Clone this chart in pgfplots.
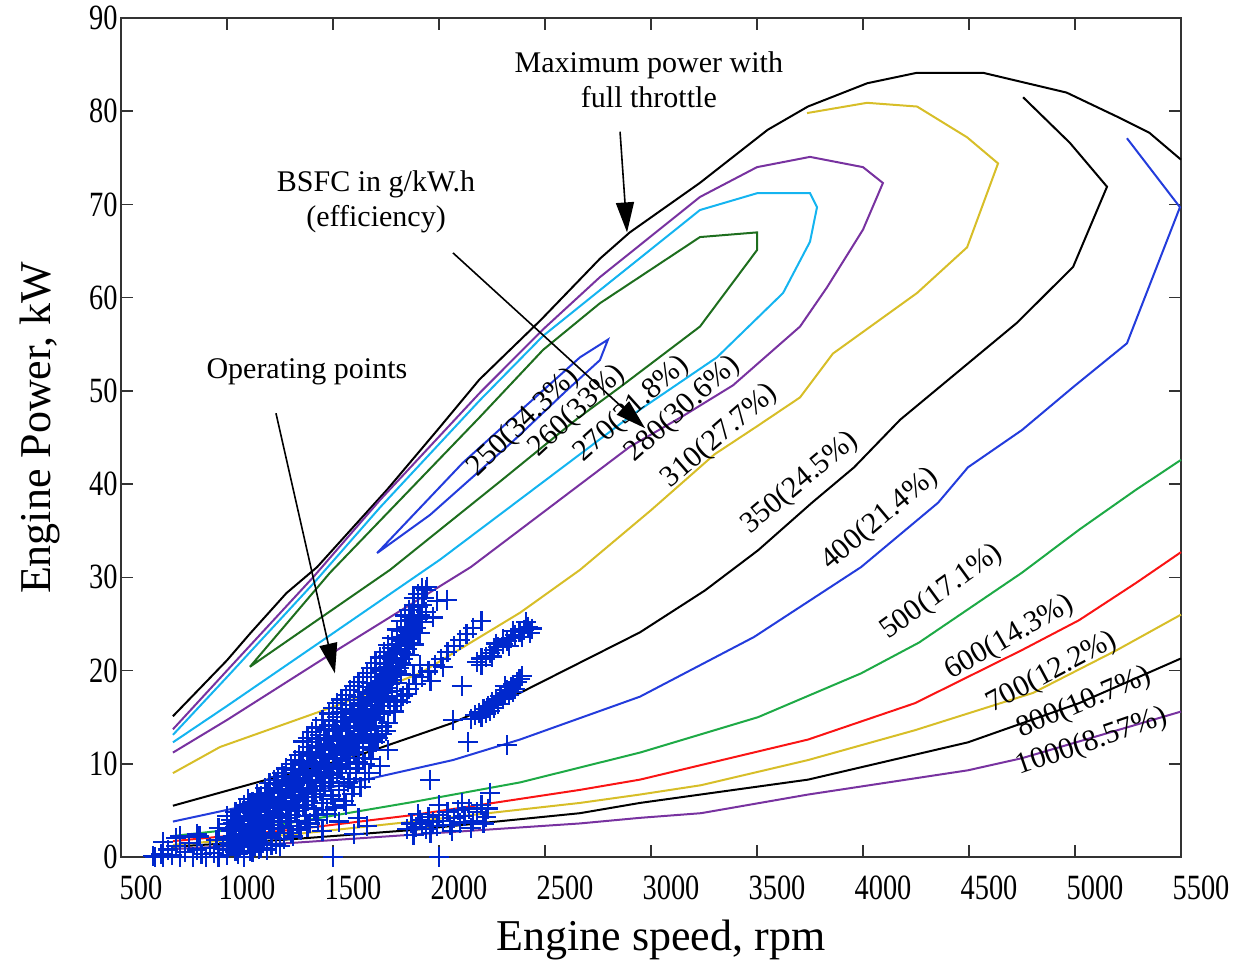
\documentclass[border=0pt]{standalone}
\usepackage{fontspec}
\setmainfont{Liberation Serif}
\newfontfamily\tickfont[FakeStretch=0.8]{Liberation Serif}
\usepackage{pgfplots}
\pgfplotsset{compat=1.18}
\usetikzlibrary{arrows.meta}
\definecolor{cPurple}{RGB}{120,50,160}
\definecolor{cCyan}{RGB}{20,180,240}
\definecolor{cDGreen}{RGB}{30,110,30}
\definecolor{cBlue}{RGB}{35,60,220}
\definecolor{cYellow}{RGB}{215,190,40}
\definecolor{cGreen}{RGB}{30,170,70}
\definecolor{cRed}{RGB}{250,20,20}
\definecolor{cOp}{RGB}{0,40,205}
\begin{document}
\begin{tikzpicture}
\begin{axis}[
  name=ax, scale only axis, width=530pt, height=419.5pt,
  xmin=500, xmax=5500, ymin=0, ymax=90,
  xtick={500,1000,...,5500}, ytick={0,10,...,90},
  xtick pos=both, ytick pos=both, xticklabel pos=lower, yticklabel pos=left,
  tick align=inside, major tick length=6pt,
  axis line style={black!80, line width=1pt},
  tick style={black!80, line width=0.8pt},
  clip=false,
  /pgf/number format/assume math mode=true,
  /pgf/number format/1000 sep={},
  ticklabel style={font=\tickfont\fontsize{17.75}{20}\selectfont},
  xticklabel style={inner sep=2pt, yshift=-7pt, xshift=10pt},
  yticklabel style={inner sep=1.5pt},
  xlabel={Engine speed, rpm}, ylabel={Engine Power, kW},
  label style={font=\fontsize{22}{26}\selectfont},
  xlabel style={at={(axis description cs:0.5094,-0.0989)}, anchor=center},
  ylabel style={at={(axis description cs:-0.0764,0.5113)}, anchor=center},
]
% operating points
\addplot[only marks, mark=+, mark size=5pt, color=cOp, line width=1.1pt] coordinates {
(650,0.1)(660,0)(690,0.3)(700,0)(720,0.8)(740,0.2)(760,1.2)(780,0)(800,0.5)(820,1.5)(840,0)(860,0.8)(880,0.3)(900,0)(920,1.0)(940,0.4)(960,0)(980,1.2)(1000,0.2)(700,1.6)(760,2.0)(870,2.2)(950,1.8)(1040,0.9)(1080,0.0)(1100,1.4)(1120,0.5)(1160,1.0)(1180,2.4)(1210,1.3)(780,2.2)(860,2.5)(960,3.1)(1050,0.3)(1150,0.9)(1250,1.2)
(1000,0.8)(1000,2.1)(1000,3.5)(1000,4.4)
(1020,1.3)(1020,2.8)(1020,4.0)
(1040,0.6)(1040,1.9)(1040,3.2)(1040,4.8)
(1060,1.1)(1060,2.5)(1060,3.9)(1060,5.0)
(1080,1.6)(1080,3.0)(1080,4.3)(1080,5.6)
(1100,1.4)(1100,2.7)(1100,4.1)(1100,5.3)(1100,6.2)
(1120,2.0)(1120,3.4)(1120,4.7)(1120,5.9)
(1140,1.8)(1140,3.1)(1140,4.5)(1140,6.0)(1140,6.8)
(1160,2.6)(1160,3.8)(1160,5.2)(1160,6.5)
(1180,2.3)(1180,3.6)(1180,4.9)(1180,6.2)(1180,7.4)
(1200,3.0)(1200,4.3)(1200,5.6)(1200,6.9)(1200,7.9)
(1220,3.4)(1220,4.7)(1220,6.1)(1220,7.3)(1220,8.3)
(1240,3.1)(1240,4.4)(1240,5.8)(1240,7.0)(1240,8.6)
(1260,3.8)(1260,5.1)(1260,6.4)(1260,7.7)(1260,9.0)
(1280,4.2)(1280,5.5)(1280,6.9)(1280,8.2)(1280,9.5)
(1300,4.5)(1300,5.9)(1300,7.2)(1300,8.6)(1300,10.0)
(1320,4.9)(1320,6.3)(1320,7.7)(1320,9.0)(1320,10.4)
(1340,5.3)(1340,6.6)(1340,8.0)(1340,9.4)(1340,10.9)
(1360,5.6)(1360,7.0)(1360,8.5)(1360,9.9)(1360,11.3)
(1380,6.0)(1380,7.4)(1380,8.8)(1380,10.3)(1380,11.8)
(1400,6.4)(1400,7.9)(1400,9.3)(1400,10.8)(1400,12.3)
(1420,6.8)(1420,8.2)(1420,9.7)(1420,11.2)(1420,12.7)
(1440,7.1)(1440,8.7)(1440,10.2)(1440,11.7)(1440,13.1)
(1460,7.6)(1460,9.1)(1460,10.6)(1460,12.1)(1460,13.6)
(1480,8.0)(1480,9.5)(1480,11.0)(1480,12.6)(1480,14.1)
(1500,8.5)(1500,10.0)(1500,11.5)(1500,13.0)(1500,14.6)
(1520,9.0)(1520,10.5)(1520,12.0)(1520,13.5)(1520,15.0)
(1540,9.5)(1540,11.0)(1540,12.5)(1540,14.0)(1540,15.5)
(1560,10.0)(1560,11.6)(1560,13.0)(1560,14.5)(1560,15.9)
(1580,10.6)(1580,12.1)(1580,13.5)(1580,15.0)(1580,16.3)
(1600,11.2)(1600,12.6)(1600,14.0)(1600,15.4)(1600,16.8)
(1620,11.8)(1620,13.2)(1620,14.6)(1620,15.9)(1620,17.2)
(1640,12.5)(1640,13.8)(1640,15.1)(1640,16.4)(1640,17.7)
(1660,13.2)(1660,14.4)(1660,15.7)(1660,16.9)(1660,18.2)
(1680,13.9)(1680,15.1)(1680,16.3)(1680,17.5)(1680,18.7)
(1700,14.7)(1700,15.8)(1700,17.0)(1700,18.1)(1700,19.3)
(1720,15.4)(1720,16.6)(1720,17.7)(1720,18.8)(1720,20.0)
(1740,16.2)(1740,17.3)(1740,18.5)(1740,19.6)(1740,20.7)
(1760,17.0)(1760,18.1)(1760,19.3)(1760,20.4)(1760,21.5)
(1780,17.8)(1780,19.0)(1780,20.1)(1780,21.3)(1780,22.4)
(1800,18.7)(1800,19.9)(1800,21.0)(1800,22.2)(1800,23.4)
(1820,19.6)(1820,20.8)(1820,22.0)(1820,23.2)(1820,24.3)
(1840,20.6)(1840,21.8)(1840,23.0)(1840,24.2)
(1860,21.7)(1860,22.9)(1860,24.1)(1860,25.3)
(1880,22.8)(1880,24.0)(1880,25.2)
(1900,24.0)(1900,25.5)(1900,26.8)
(1920,25.2)(1920,27.0)(1940,28.6)(1940,26.3)
(1010,1.5)(1010,3.0)(1030,2.2)(1030,3.6)(1050,1.4)(1050,4.4)(1070,2.0)(1070,3.4)(1090,2.3)(1090,4.9)(1110,3.5)(1110,5.7)(1130,2.8)(1130,5.2)(1150,4.0)(1150,6.3)(1170,3.2)(1170,5.8)(1190,4.2)(1190,6.9)(1210,3.8)(1210,6.4)(1230,5.3)(1230,7.8)(1250,4.6)(1250,7.3)(1270,6.0)(1270,8.7)(1290,5.0)(1290,7.6)(1310,6.6)(1310,9.3)(1330,5.6)(1330,8.4)(1350,7.2)(1350,10.2)(1370,6.4)(1370,9.1)(1390,8.1)(1390,11.0)(1410,7.2)(1410,10.0)(1430,8.9)(1430,11.9)(1450,8.0)(1450,10.9)(1470,9.8)(1470,12.8)(1490,8.8)(1490,11.8)(1510,10.6)(1510,13.7)(1530,9.7)(1530,12.8)(1550,11.3)(1550,14.6)(1570,10.9)(1570,13.8)(1590,12.4)(1590,15.6)(1610,12.2)(1610,14.8)(1630,13.5)(1630,16.5)(1650,13.6)(1650,16.2)(1670,14.9)(1670,17.6)(1690,15.0)(1690,17.9)(1710,16.2)(1710,18.7)(1730,16.8)(1730,19.3)(1750,17.7)(1750,20.1)(1770,18.6)(1770,20.8)(1790,19.5)(1790,21.8)(1810,20.3)(1810,22.8)(1830,21.2)(1830,23.6)(1850,22.3)(1850,24.7)(1870,23.4)(1870,25.8)(1890,24.6)(1910,25.9)(1930,27.8)
(1110,0.6)(1130,1.2)(1150,2.2)(1170,1.5)(1190,0.8)(1210,2.0)(1230,1.4)(1250,2.6)(1270,1.9)(1290,3.3)(1310,2.2)(1330,3.8)(1350,2.9)(1370,4.4)(1390,3.6)(1410,5.2)(1430,4.0)(1450,5.8)(1470,4.6)(1490,6.6)(1510,5.3)(1530,7.2)(1550,6.0)(1570,8.0)(1590,6.8)(1610,9.0)(1630,7.5)(1650,10.0)(1670,9.0)(1690,11.5)(1710,12.8)(1730,14.0)
(1360,12.4)(1380,12.8)(1400,13.4)(1420,13.9)(1450,14.7)(1480,15.4)(1500,16.0)(1520,16.5)(1540,16.9)(1560,17.4)(1580,17.9)(1600,18.3)(1620,18.8)(1640,19.3)(1660,19.7)(1680,20.3)(1700,20.8)(1720,21.4)(1740,22.0)(1760,22.7)(1780,23.5)(1800,24.4)(1820,25.3)(1840,25.9)(1860,26.5)(1880,27.8)(1900,28.2)(1920,28.9)
(1550,7.6)(1580,8.4)(1610,9.5)(1640,10.6)(1670,11.7)(1700,13.0)(1730,13.2)(1760,14.4)(1790,15.6)(1820,16.6)(1850,17.5)(1880,19.5)(1910,20.6)(1620,10.2)(1680,12.5)
(1300,2.6)(1340,3.0)(1380,3.2)(1420,4.5)(1450,2.8)(1470,5.0)(1500,6.2)(1530,3.8)(1560,5.6)(1580,9.0)(1600,7.5)(1600,2.5)(1620,4.2)(1650,8.4)(1660,3.3)(1680,10.5)(1700,12.3)(1720,9.8)(1750,13.5)(1760,11.5)
(1943,29.0)(2038,27.6)(1972,25.7)(1863,25.4)(1910,24.0)(1990,27.5)(1880,27.0)
(1740,15.5)(1770,16.2)(1800,16.8)(1830,17.3)(1860,18.0)(1890,18.6)(1920,19.3)(1950,19.9)(1980,20.6)(2010,21.2)(2040,22.0)(2070,22.6)(2100,23.3)(2130,23.9)(2160,24.6)(2200,25.3)(1960,18.9)(2020,20.4)
(2180,20.9)(2200,21.3)(2220,21.5)(2240,21.9)(2260,22.2)(2280,22.5)(2300,22.8)(2320,23.2)(2340,23.5)(2360,23.8)(2380,24.1)(2400,24.4)(2420,24.7)(2440,24.5)(2250,21.5)(2300,23.4)(2350,24.2)(2390,23.6)(2410,25.2)(2200,20.6)(2270,22.9)(2330,22.6)(2430,24.0)
(2150,14.8)(2170,15.2)(2190,15.5)(2200,15.0)(2210,15.9)(2230,16.2)(2240,15.7)(2250,16.6)(2270,16.9)(2280,16.4)(2290,17.3)(2300,17.0)(2310,17.6)(2320,17.9)(2330,17.4)(2340,18.2)(2350,18.5)(2360,18.0)(2370,18.8)(2380,19.1)(2220,15.4)(2260,16.0)(2310,18.3)(2350,17.7)(2390,19.4)
(2108,18.3)(2137,12.3)(2321,12.0)(1958,8.3)(2066,14.7)
(1850,3.0)(1870,3.6)(1890,3.2)(1910,4.0)(1920,3.5)(1940,3.0)(1950,4.3)(1970,3.8)(1990,3.3)(2000,4.5)(2020,3.9)(2040,4.8)(2050,3.4)(2070,4.2)(2090,5.0)(2100,3.7)(2120,4.4)(2140,5.2)(2160,3.9)(2180,4.8)(2200,5.6)(2220,4.3)(2240,6.9)(2230,5.2)(1880,2.4)(1960,2.6)(2060,2.8)(2150,3.1)(2210,3.6)(1900,4.6)(2000,5.6)(2110,5.8)
(1500,0)(2000,0)
};
% contour lines
\addplot[black, line width=1pt] coordinates {(745,15.1)(1000,21.1)(1110,24.0)(1280,28.3)(1425,31.1)(1755,39.4)(2000,46.0)(2190,51.2)(2480,57.6)(2760,64.2)(2900,67.0)(3230,72.3)(3550,78.0)(3740,80.5)(4020,83.0)(4250,84.1)(4570,84.1)(4960,82.0)(5200,79.4)(5350,77.7)(5500,74.8)};
\addplot[cPurple, line width=1pt] coordinates {(745,13.7)(1000,20.0)(1406,30.0)(1722,38.3)(2193,49.8)(2491,56.6)(2759,62.2)(3231,70.8)(3500,74.0)(3750,75.1)(4000,74.0)(4094,72.3)(4000,67.3)(3830,61.1)(3703,56.9)(3387,50.6)(3151,47.3)(2900,44.0)(2150,31.1)(1519,22.2)(1000,14.7)(745,11.2)};
\addplot[cCyan, line width=1pt] coordinates {(745,13.1)(1000,19.3)(1406,29.3)(1722,37.5)(2193,49.0)(2491,55.9)(2759,60.8)(3231,69.4)(3500,71.2)(3750,71.2)(3783,69.7)(3750,66.0)(3623,60.5)(3311,53.6)(2910,47.4)(2005,31.9)(1500,24.0)(1000,16.2)(745,12.3)};
\addplot[cDGreen, line width=1pt] coordinates {(1108,20.4)(1486,30.5)(2193,47.2)(2491,54.4)(2759,59.4)(3231,66.5)(3500,67.0)(3500,65.1)(3231,56.9)(2854,50.4)(2651,47.0)(2300,40.5)(1769,30.8)(1400,25.0)(1108,20.4)};
\addplot[cBlue, line width=1pt] coordinates {(1708,32.6)(2113,42.3)(2400,48.2)(2665,53.6)(2797,55.5)(2759,53.3)(2600,50.0)(2349,44.6)(1958,36.7)(1708,32.6)};
\addplot[cYellow, line width=1pt] coordinates {(745,9.0)(967,11.8)(1500,16.1)(1910,19.7)(2382,26.2)(2665,30.8)(3000,37.2)(3300,43.2)(3500,46.2)(3703,49.3)(3858,54.0)(4255,60.5)(4491,65.4)(4637,74.4)(4491,77.2)(4255,80.5)(4019,80.9)(3736,79.8)};
\addplot[black, line width=1pt] coordinates {(745,5.5)(1236,8.6)(1594,10.7)(2066,14.4)(2382,17.6)(2948,24.1)(3255,28.6)(3505,32.9)(3759,38.0)(3958,41.8)(4175,46.9)(4726,57.3)(4991,63.3)(5151,71.9)(4976,76.6)(4755,81.5)};
\addplot[cBlue, line width=1pt] coordinates {(745,3.8)(1439,7.2)(2066,10.4)(2382,12.6)(2948,17.2)(3486,23.6)(3991,31.1)(4354,38.0)(4495,41.8)(4750,45.8)(4991,50.4)(5245,55.1)(5495,69.7)(5245,77.1)};
\addplot[cGreen, line width=1pt] coordinates {(745,2.25)(1283,3.6)(1877,5.9)(2382,8.0)(2948,11.2)(3505,15.0)(3991,19.7)(4264,23.0)(4750,30.5)(5019,35.1)(5288,39.4)(5500,42.6)};
\addplot[cRed, line width=1pt] coordinates {(745,1.7)(1300,2.9)(1877,4.5)(2665,7.2)(2948,8.3)(3741,12.6)(4245,16.5)(4750,22.2)(5019,25.4)(5288,29.4)(5500,32.7)};
\addplot[cYellow, line width=1pt] coordinates {(745,1.3)(1300,2.4)(1877,3.8)(2665,5.8)(2948,6.7)(3236,7.7)(3741,10.4)(4245,13.6)(4802,17.6)(5198,22.2)(5500,26.0)};
\addplot[black, line width=1pt] coordinates {(745,1.1)(1300,1.9)(1877,2.9)(2665,4.7)(2948,5.8)(3741,8.3)(4495,12.3)(5019,16.5)(5500,21.3)};
\addplot[cPurple, line width=1pt] coordinates {(745,0.85)(1300,1.5)(1877,2.4)(2665,3.6)(2948,4.2)(3236,4.7)(3741,6.7)(4495,9.3)(4750,10.6)(5500,15.6)};
% contour labels
\begin{scope}[every node/.style={font=\fontsize{15}{17}\selectfont, inner sep=0.5pt}]
\node[rotate=44] at (axis cs:2400,46.6) {250(34.3\%)};
\node[rotate=43] at (axis cs:2651,47.8) {260(33\%)};
\node[rotate=42] at (axis cs:2910,48.0) {270(31.8\%)};
\node[rotate=42] at (axis cs:3151,48.0) {280(30.6\%)};
\node[rotate=41] at (axis cs:3325,45.1) {310(27.7\%)};
\node[rotate=40] at (axis cs:3703,40.1) {350(24.5\%)};
\node[rotate=40] at (axis cs:4080,36.2) {400(21.4\%)};
\node[rotate=36] at (axis cs:4373,28.4) {500(17.1\%)};
\node[rotate=30] at (axis cs:4693,23.5) {600(14.3\%)};
\node[rotate=28] at (axis cs:4892,19.8) {700(12.2\%)};
\node[rotate=23] at (axis cs:5042,16.5) {800(10.7\%)};
\node[rotate=19] at (axis cs:5080,12.3) {1000(8.57\%)};
\end{scope}
% annotations
\begin{scope}[every node/.style={font=\fontsize{15}{17.5}\selectfont, align=center}]
\node at (axis cs:2990,83.4) {Maximum power with\\full throttle};
\node at (axis cs:1703,70.3) {BSFC in g/kW.h\\(efficiency)};
\node at (axis cs:1377,52.0) {Operating points};
\end{scope}
\draw[black, line width=0.8pt, -{Triangle[length=15pt,width=9pt]}] (axis cs:2854,77.8) -- (axis cs:2887,67.0);
\draw[black, line width=0.8pt, -{Triangle[length=15pt,width=9pt]}] (axis cs:2066,64.8) -- (axis cs:2972,46.0);
\draw[black, line width=0.8pt, -{Triangle[length=15pt,width=9pt]}] (axis cs:1231,47.6) -- (axis cs:1509,19.7);
\end{axis}
\path ([shift={(-60.5pt,-54.5pt)}]ax.south west) rectangle ([shift={(26.5pt,9pt)}]ax.north east);
\end{tikzpicture}
\end{document}
